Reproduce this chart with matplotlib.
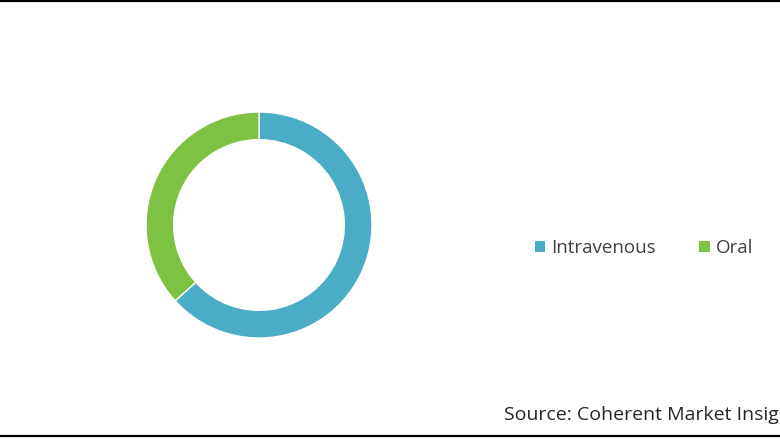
import matplotlib
matplotlib.use("Agg")
import matplotlib.pyplot as plt
from matplotlib.patches import Patch
from matplotlib.lines import Line2D

labels = ["Intravenous", "Oral"]
shares = [63.3, 36.7]
colors = ["#4BACC6", "#7DC243"]

plt.rcParams["font.family"] = ["Open Sans", "DejaVu Sans"]

fig = plt.figure(figsize=(7.8, 4.4), dpi=100)
W, H = 780, 440

# donut placed by pixel centre / radius
cx, cy, r = 259, 225, 113
ax = fig.add_axes([(cx - r) / W, (H - cy - r) / H, 2 * r / W, 2 * r / H])
ax.pie(shares, colors=colors, startangle=90, counterclock=False, radius=1,
       wedgeprops=dict(width=0.245, edgecolor="white", linewidth=1))
ax.set_xlim(-1, 1)
ax.set_ylim(-1, 1)
ax.set_aspect("equal")
ax.axis("off")

handles = [Patch(facecolor=c, edgecolor="none") for c in colors]
fig.legend(handles, labels, loc="center", bbox_to_anchor=(644 / W, 1 - 248 / H),
           ncol=2, frameon=False, fontsize=13.5, handlelength=0.55, handleheight=0.55,
           handletextpad=0.35, columnspacing=2.3, labelcolor="#404040")

# the source line runs off the right edge, as in the original
fig.text(504 / W, 1 - 415 / H, "Source: Coherent Market Insights", fontsize=14,
         color="#262626", ha="left", va="center")

# top and bottom rules
for y in (1.5, 435.5):
    fig.add_artist(Line2D([0, 1], [1 - y / H, 1 - y / H], color="black", linewidth=1.6,
                          transform=fig.transFigure))

fig.savefig("out.png", dpi=100, facecolor="white")
